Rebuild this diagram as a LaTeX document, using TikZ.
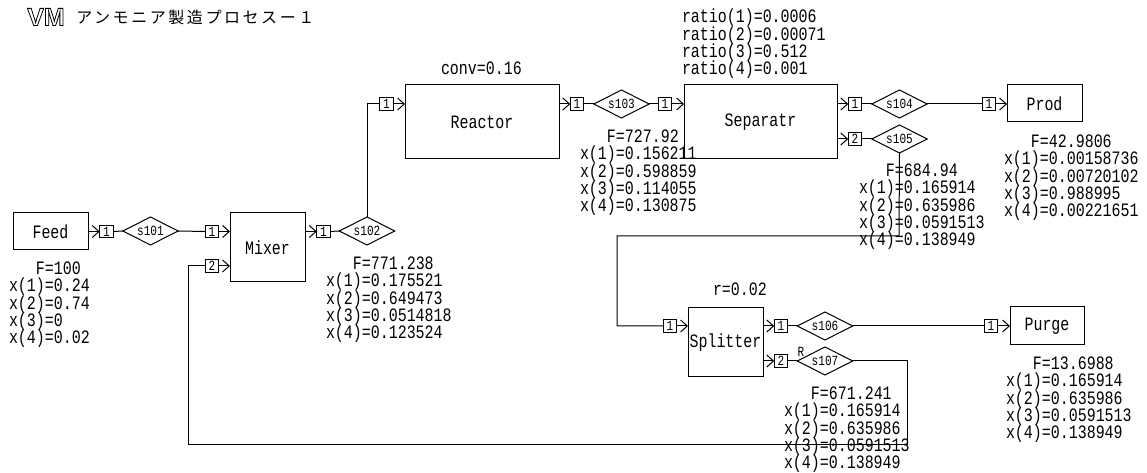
\documentclass[tikz,border=0pt]{standalone}
\usepackage{fontspec}
\setmainfont{Liberation Mono}
\newfontfamily\monof[FakeStretch=0.79]{Liberation Mono}
\newfontfamily\cjkf[LetterSpace=16]{Noto Sans CJK JP}
\newfontfamily\logof{Liberation Sans Bold}
\usetikzlibrary{shapes.geometric,arrows.meta}
\newcommand\Fl[1]{\hspace*{20.2pt}#1}
\newcommand\blkfont{\monof\fontsize{14.2}{13}\selectfont\lineskiplimit=-20pt\relax}
\tikzset{
  x=0.75pt,y=-0.75pt,
  base/.style={line width=0.75pt,draw=black,inner sep=0pt,outer sep=0pt},
  unit/.style 2 args={base,rectangle,minimum width=#1*0.75pt,minimum height=#2*0.75pt,font=\monof\fontsize{14.2}{13}\selectfont},
  tag/.style={base,rectangle,minimum width=10.2pt,minimum height=9.6pt,fill=white,font=\monof\fontsize{10.5}{10}\selectfont},
  valve/.style={base,diamond,aspect=2,minimum width=41.5pt,minimum height=21pt,font=\monof\fontsize{10.5}{10}\selectfont},
  blk/.style={inner sep=0pt,outer sep=0pt,anchor=north west,align=left,font=\blkfont},
  lab/.style={inner sep=0pt,outer sep=0pt,anchor=west,font=\monof\fontsize{14.2}{13}\selectfont},
  line/.style={line width=0.75pt,draw=black},
  arr/.style={line,-{Straight Barb[length=5pt,width=9pt,line width=0.75pt]}},
}
\begin{document}
\begin{tikzpicture}
\useasboundingbox (0,0) rectangle (1147,473);
\fill[white] (0,0) rectangle (1147,473);

% title
\node[inner sep=0pt,anchor=center] (logo) at (46,17) {\logof\fontsize{18.75}{18.75}\selectfont\special{pdf:code 1 Tr 0.6 w}VM\special{pdf:code 0 Tr}};
\node[inner sep=0pt,anchor=west,font=\cjkf\fontsize{12}{12}\selectfont] (title) at (76,17) {アンモニア製造プロセスー１};

% units
\node[unit={75}{37}] (feed) at (50.5,231.5) {Feed};
\node[unit={75}{69}] (mixer) at (267.5,247.5) {Mixer};
\node[unit={154}{74}] (reactor) at (482,122) {Reactor};
\node[unit={153}{74}] (sep) at (760.5,122) {Separatr};
\node[unit={75}{37}] (prod) at (1044.5,103.5) {Prod};
\node[unit={75}{69}] (split) at (725.5,342.5) {Splitter};
\node[unit={74}{38}] (purge) at (1047,326) {Purge};

% tags
\node[tag] (t1a) at (106.5,231.5) {1};
\node[tag] (t2a) at (212,231.5) {1};
\node[tag] (t2b) at (212,266) {2};
\node[tag] (t3a) at (323.5,231.5) {1};
\node[tag] (t4a) at (386.5,104) {1};
\node[tag] (t5a) at (577,104) {1};
\node[tag] (t6a) at (665,104) {1};
\node[tag] (t7a) at (855,104) {1};
\node[tag] (t7b) at (855,139) {2};
\node[tag] (t8a) at (989,104) {1};
\node[tag] (t9a) at (670,326) {1};
\node[tag] (t10a) at (781,326) {1};
\node[tag] (t10b) at (781,361) {2};
\node[tag] (t11a) at (991,326) {1};

% streams
\node[valve] (s101) at (150.5,231) {s101};
\node[valve] (s102) at (367,231) {s102};
\node[valve] (s103) at (621.5,104) {s103};
\node[valve] (s104) at (899.5,104) {s104};
\node[valve] (s105) at (899.5,139) {s105};
\node[valve] (s106) at (825,326) {s106};
\node[valve] (s107) at (825,361) {s107};

% connectors
\draw[arr] (feed.east) -- (t1a.west);
\draw[line] (t1a.east) -- (s101.west);
\draw[line] (s101.east) -- (t2a.west);
\draw[arr] (t2a.east) -- (t2a.east -| mixer.west);
\draw[arr] (t2b.east) -- (t2b.east -| mixer.west);
\draw[arr] (t3a.west -| mixer.east) -- (t3a.west);
\draw[line] (t3a.east) -- (s102.west);
\draw[line] (s102.north) |- (t4a.west);
\draw[arr] (t4a.east) -- (t4a.east -| reactor.west);
\draw[arr] (t5a.west -| reactor.east) -- (t5a.west);
\draw[line] (t5a.east) -- (s103.west);
\draw[line] (s103.east) -- (t6a.west);
\draw[arr] (t6a.east) -- (t6a.east -| sep.west);
\draw[arr] (t7a.west -| sep.east) -- (t7a.west);
\draw[arr] (t7b.west -| sep.east) -- (t7b.west);
\draw[line] (t7a.east) -- (s104.west);
\draw[line] (t7b.east) -- (s105.west);
\draw[line] (s104.east) -- (t8a.west);
\draw[arr] (t8a.east) -- (t8a.east -| prod.west);
\coordinate (ra) at (899,236);
\coordinate (rb) at (617,236);
\draw[line] (s105.south) -- (ra) -- (rb) |- (t9a.west);
\draw[arr] (t9a.east) -- (t9a.east -| split.west);
\draw[arr] (t10a.west -| split.east) -- (t10a.west);
\draw[arr] (t10b.west -| split.east) -- (t10b.west);
\draw[line] (t10a.east) -- (s106.west);
\draw[line] (t10b.east) -- (s107.west);
\draw[line] (s106.east) -- (t11a.west);
\draw[arr] (t11a.east) -- (t11a.east -| purge.west);
\coordinate (rc) at (907,445);
\coordinate (rd) at (188,445);
\draw[line] (s107.east) -| (rc) -- (rd) |- (t2b.west);

% labels
\node[lab] (lconv) at (441,68) {conv=0.16};
\node[blk] (lratio) at (682,9) {\strut ratio(1)=0.0006\\ratio(2)=0.00071\\ratio(3)=0.512\\ratio(4)=0.001};
\node[lab] (lr) at (713,289) {r=0.02};
\node[inner sep=0pt,font=\monof\fontsize{10.5}{10}\selectfont] (lrr) at (801,352) {R};

\node[blk] (d1) at (9,262) {\strut\Fl{F=100}\\x(1)=0.24\\x(2)=0.74\\x(3)=0\\x(4)=0.02};
\node[blk] (d2) at (326,257) {\strut\Fl{F=771.238}\\x(1)=0.175521\\x(2)=0.649473\\x(3)=0.0514818\\x(4)=0.123524};
\node[blk] (d3) at (580,130) {\strut\Fl{F=727.92}\\x(1)=0.156211\\x(2)=0.598859\\x(3)=0.114055\\x(4)=0.130875};
\node[blk] (d4) at (1004,135) {\strut\Fl{F=42.9806}\\x(1)=0.00158736\\x(2)=0.00720102\\x(3)=0.988995\\x(4)=0.00221651};
\node[blk] (d5) at (859,164) {\strut\Fl{F=684.94}\\x(1)=0.165914\\x(2)=0.635986\\x(3)=0.0591513\\x(4)=0.138949};
\node[blk] (d6) at (1006,357) {\strut\Fl{F=13.6988}\\x(1)=0.165914\\x(2)=0.635986\\x(3)=0.0591513\\x(4)=0.138949};
\node[blk] (d7) at (784,387) {\strut\Fl{F=671.241}\\x(1)=0.165914\\x(2)=0.635986\\x(3)=0.0591513\\x(4)=0.138949};
\end{tikzpicture}
\end{document}
